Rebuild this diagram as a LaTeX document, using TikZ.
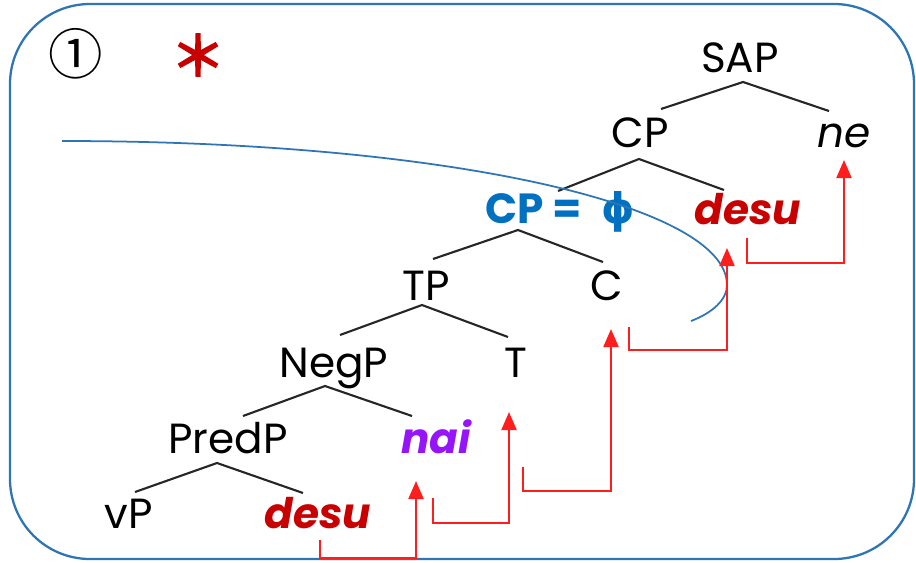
\documentclass[tikz,border=0pt]{standalone}
\usepackage{fontspec}
\setmainfont{Poppins}
\newfontfamily\greekfont{DejaVu Sans}
\newfontfamily\cjk{Noto Sans CJK JP}
\newfontfamily\cjkheavy[FakeBold=4]{Noto Sans CJK JP}
\usepackage{tikz}
\usetikzlibrary{arrows.meta}
\definecolor{headred}{RGB}{200,0,0}
\definecolor{movered}{RGB}{255,30,30}
\definecolor{phiblue}{RGB}{0,112,192}
\definecolor{negpurple}{RGB}{150,20,250}
\definecolor{frameblue}{RGB}{46,117,182}
\tikzset{
  cat/.style={anchor=base, inner sep=0pt, font=\fontsize{24}{28}\selectfont},
  head/.style={cat, font=\fontsize{24}{28}\selectfont\bfseries\itshape, text=headred},
  branch/.style={line width=1.2pt, draw=black!85},
  move/.style={line width=1.2pt, draw=movered, -{Triangle[width=0.3cm,length=0.36cm]}},
  phase/.style={line width=1pt, draw=frameblue},
}

\begin{document}
\begin{tikzpicture}[x=0.02cm, y=-0.02cm]
\useasboundingbox (0,0) rectangle (916,562);
\draw[line width=1.3pt, frameblue, rounded corners=1.6cm] (10,4) rectangle (914,559);

\node[font=\cjk\fontsize{31}{31}\selectfont] (num) at (76,54) {①};
\node[text=headred, font=\cjkheavy\fontsize{31}{31}\selectfont] (star) at (198,55) {＊};

% tree
\node[cat] (sap) at (740,72) {SAP};
\node[cat] (cp) at (640,147) {CP};
\node[cat, font=\fontsize{24}{28}\selectfont\itshape] (ne) at (844,147) {ne};
\node[cat, font=\fontsize{24}{28}\selectfont\bfseries, text=phiblue] (phase) at (560,223)
  {CP = \hspace{0.25em}{\greekfont\bfseries ϕ}};
\node[head] (desuC) at (748,224) {desu};
\node[cat] (tp) at (426,300) {TP};
\node[cat] (c) at (607,300) {C};
\node[cat] (negp) at (334,377) {NegP};
\node[cat] (t) at (516,377) {T};
\node[cat] (predp) at (228,453) {PredP};
\node[head, text=negpurple] (nai) at (436,453) {nai};
\node[cat] (vp) at (129,528) {vP};
\node[head] (desuV) at (318,528) {desu};

\draw[branch] ([shift={(21,-38)}]cp.base) -- ([shift={(3,10)}]sap.base) -- ([shift={(-15,-36)}]ne.base);
\draw[branch] ([shift={(-2,-32)}]phase.base) -- ([shift={(-1,12)}]cp.base) -- ([shift={(-24,-34)}]desuC.base);
\draw[branch] ([shift={(7,-41)}]tp.base) -- ([shift={(-42,7)}]phase.base) -- ([shift={(-4,-38)}]c.base);
\draw[branch] ([shift={(6,-42)}]negp.base) -- ([shift={(-4,5)}]tp.base) -- ([shift={(-8,-40)}]t.base);
\draw[branch] ([shift={(15,-37)}]predp.base) -- ([shift={(-9,9)}]negp.base) -- ([shift={(-24,-37)}]nai.base);
\draw[branch] ([shift={(6,-36)}]vp.base) -- ([shift={(-11,10)}]predp.base) -- ([shift={(-15,-35)}]desuV.base);

% phase boundary
\draw[phase] (62,141) .. controls (446,141) and (727,205) .. (727,285)
  .. controls (727,300) and (712,313) .. (691,321);

% head movement
\draw[move] ([shift={(2,12)}]desuV.base) -- ++(0,18) -| ([shift={(-20,28)}]nai.base);
\draw[move] ([shift={(-3,45)}]nai.base) -- ++(0,25) -| ([shift={(-7,35)}]t.base);
\draw[move] ([shift={(7,90)}]t.base) -- ++(0,24) -| ([shift={(4,29)}]c.base);
\draw[move] ([shift={(22,27)}]c.base) -- ++(0,23) -| ([shift={(-21,24)}]desuC.base);
\draw[move] ([shift={(-1,14)}]desuC.base) -- ++(0,25) -| ([shift={(0,13)}]ne.base);
\end{tikzpicture}
\end{document}
